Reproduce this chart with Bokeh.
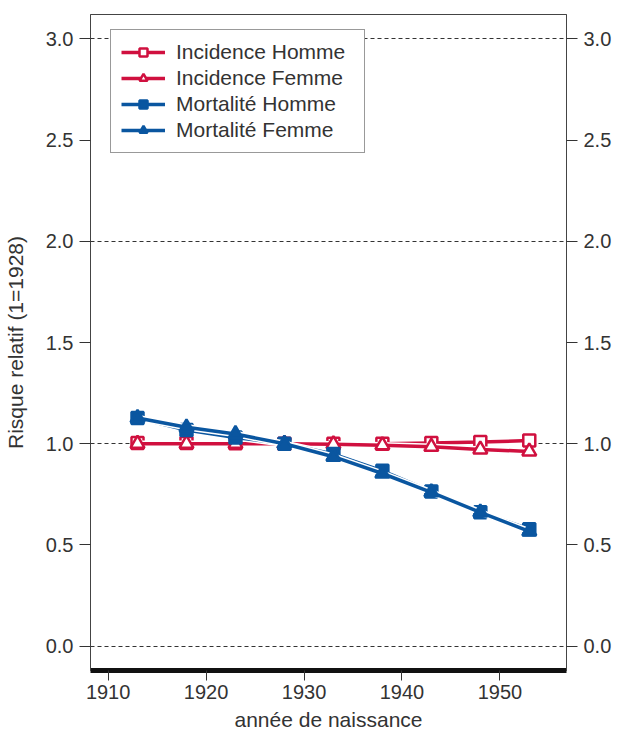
from bokeh.plotting import figure
from bokeh.models import Range1d, LinearAxis, FixedTicker, PrintfTickFormatter, Legend, LegendItem
from bokeh.embed import file_html
from bokeh.resources import INLINE

years = [1913, 1918, 1923, 1928, 1933, 1938, 1943, 1948, 1953]
inc_homme = [1.004, 1.004, 1.002, 1.0, 1.0, 1.0, 1.004, 1.008, 1.016]
inc_femme = [1.0, 1.0, 1.0, 1.0, 0.998, 0.993, 0.985, 0.972, 0.962]
mort_homme = [1.127, 1.068, 1.031, 1.0, 0.949, 0.866, 0.764, 0.661, 0.578]
mort_femme = [1.127, 1.081, 1.048, 1.0, 0.936, 0.853, 0.76, 0.661, 0.567]

y_ticks = [0.0, 0.5, 1.0, 1.5, 2.0, 2.5, 3.0]
grid_ticks = [0.0, 1.0, 2.0, 3.0]
x_ticks = [1910, 1920, 1930, 1940, 1950]

RED = "#D0103F"
BLUE = "#0A56A0"
TXT = "#333333"
FONT = "Liberation Sans"

p = figure(
    frame_width=476, frame_height=656,
    x_range=Range1d(1908.2, 1956.8), y_range=Range1d(-0.12, 3.12),
    output_backend="svg", toolbar_location=None,
    min_border_left=83, min_border_top=14, min_border_right=45, min_border_bottom=60,
)
p.background_fill_color = "white"
p.border_fill_color = "white"
p.outline_line_color = "#444444"
p.outline_line_width = 1

p.xgrid.visible = False
p.ygrid.ticker = FixedTicker(ticks=grid_ticks)
p.ygrid.grid_line_color = "#333333"
p.ygrid.grid_line_dash = "4 3"
p.ygrid.grid_line_width = 1

# x axis
xa = p.xaxis[0]
xa.ticker = FixedTicker(ticks=x_ticks)
xa.axis_line_width = 5
xa.axis_line_color = "#111111"
xa.major_tick_out = 10
xa.major_tick_in = 0
xa.minor_tick_out = 0
xa.minor_tick_in = 0
xa.major_tick_line_color = "#333333"
xa.major_label_text_font = FONT
xa.major_label_text_font_size = "20px"
xa.major_label_text_color = TXT
xa.major_label_standoff = 4
xa.axis_label = "année de naissance"
xa.axis_label_text_font = FONT
xa.axis_label_text_font_size = "21px"
xa.axis_label_text_font_style = "normal"
xa.axis_label_text_color = TXT
xa.axis_label_standoff = 6

def style_y(ax):
    ax.ticker = FixedTicker(ticks=y_ticks)
    ax.formatter = PrintfTickFormatter(format="%.1f")
    ax.axis_line_color = "#444444"
    ax.axis_line_width = 1
    ax.major_tick_out = 11
    ax.major_tick_in = 0
    ax.minor_tick_out = 0
    ax.minor_tick_in = 0
    ax.major_tick_line_color = "#333333"
    ax.major_label_text_font = FONT
    ax.major_label_text_font_size = "20px"
    ax.major_label_text_color = TXT
    ax.major_label_standoff = 6

ya = p.yaxis[0]
style_y(ya)
ya.axis_label = "Risque relatif (1=1928)"
ya.axis_label_text_font = FONT
ya.axis_label_text_font_size = "21px"
ya.axis_label_text_font_style = "normal"
ya.axis_label_text_color = TXT
ya.axis_label_standoff = 16

yr = LinearAxis()
style_y(yr)
p.add_layout(yr, "right")

series = [
    ("Incidence Homme", inc_homme, RED, "square", "white"),
    ("Incidence Femme", inc_femme, RED, "triangle", "white"),
    ("Mortalité Homme", mort_homme, BLUE, "square", BLUE),
    ("Mortalité Femme", mort_femme, BLUE, "triangle", BLUE),
]

items = []
for label, vals, col, mk, fill in series:
    p.line(years, vals, line_color="white", line_width=6.5)
    ln = p.line(years, vals, line_color=col, line_width=3.5)
    sz = 12 if mk == "square" else 14
    sc = p.scatter(years, vals, marker=mk, size=sz, line_color=col, line_width=2.5, fill_color=fill)
    items.append(LegendItem(label=label, renderers=[ln, sc]))

leg = Legend(items=items, location=(20, 517))
leg.border_line_color = "#333333"
leg.border_line_width = 1
leg.background_fill_color = "white"
leg.background_fill_alpha = 1
leg.label_text_font = FONT
leg.label_text_font_size = "21px"
leg.label_text_color = TXT
leg.glyph_width = 44
leg.glyph_height = 20
leg.label_height = 20
leg.label_width = 178
leg.label_standoff = 11
leg.spacing = 2
leg.padding = 10
leg.margin = 0
p.add_layout(leg, "center")

open("out.html", "w").write(file_html(p, INLINE))
